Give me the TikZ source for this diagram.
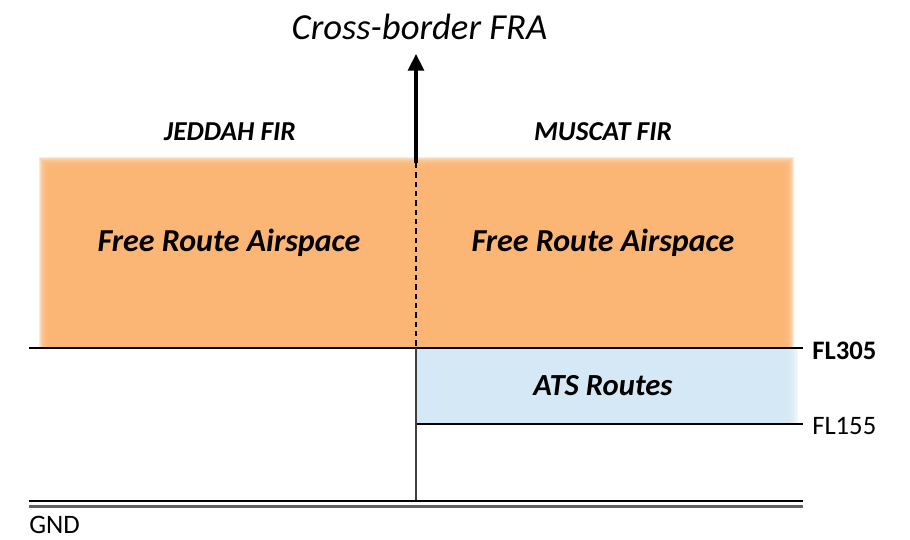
\documentclass[tikz,border=0pt]{standalone}
\usepackage{fontspec}
\setmainfont{Carlito}
\usetikzlibrary{arrows.meta}
\definecolor{fraorange}{RGB}{251,181,115}
\definecolor{atsblue}{RGB}{213,232,245}
\begin{document}
\begin{tikzpicture}[x=0.75pt,y=-0.75pt,
  titlestyle/.style={font=\fontsize{27.5}{30}\selectfont\itshape},
  firlabel/.style={font=\fontsize{20.5}{22}\selectfont\bfseries\itshape},
  zonelabel/.style={font=\fontsize{24}{26}\selectfont\bfseries\itshape},
  atslabel/.style={font=\fontsize{23}{26}\selectfont\bfseries\itshape},
  fllabel/.style={font=\fontsize{20}{22}\selectfont, anchor=west, inner sep=0pt},
  lvl/.style={line width=0.8pt, black},
  gndline/.style={line width=1.6pt, black!62}]
\useasboundingbox (0,0) rectangle (910,539);
% soft-edged Free Route Airspace band
\foreach \i in {0,...,11} {
  \fill[fraorange, opacity=0.3] (39+\i,157+\i) rectangle (794-\i,348);
}
% soft-edged ATS route band
\foreach \i in {0,...,11} {
  \fill[atsblue, opacity=0.3] (416,348) rectangle (798-1.4*\i,424);
}
% coordinates
\coordinate (top) at (416,54);
\coordinate (base) at (416,163);
\coordinate (mid) at (416,348);
\coordinate (low) at (416,424);
\coordinate (gnd) at (416,501);
\coordinate (l305) at (29,348);
\coordinate (r305) at (803,348);
\coordinate (r155) at (803,424);
\coordinate (lg1) at (29,501);
\coordinate (rg1) at (803,501);
\coordinate (lg2) at (29,506.5);
\coordinate (rg2) at (803,506.5);
% texts
\node[titlestyle] (title) at (419.5,27) {Cross-border FRA};
\node[firlabel] (jeddah) at (230,132) {JEDDAH FIR};
\node[firlabel] (muscat) at (603,132) {MUSCAT FIR};
\node[zonelabel] (fra1) at (229,243) {Free Route Airspace};
\node[zonelabel] (fra2) at (603,243) {Free Route Airspace};
\node[atslabel] (ats) at (603,386) {ATS Routes};
\node[fllabel, font=\fontsize{20}{22}\selectfont\bfseries] (fl305) at (812,351) {FL305};
\node[fllabel] (fl155) at (812,426) {FL155};
\node[fllabel] (gndlabel) at (29,525) {GND};
% lines
\draw[line width=2.3pt, -{Triangle[width=12pt,length=12.5pt]}] (base) -- (top);
\draw[line width=1pt, dash pattern=on 4pt off 3pt] (base) -- (mid);
\draw[lvl] (l305) -- (r305);
\draw[lvl] (low) -- (r155);
\draw[line width=1.3pt, black!75] (mid) -- (gnd);
\draw[lvl] (lg1) -- (rg1);
\draw[gndline] (lg2) -- (rg2);
\end{tikzpicture}
\end{document}
